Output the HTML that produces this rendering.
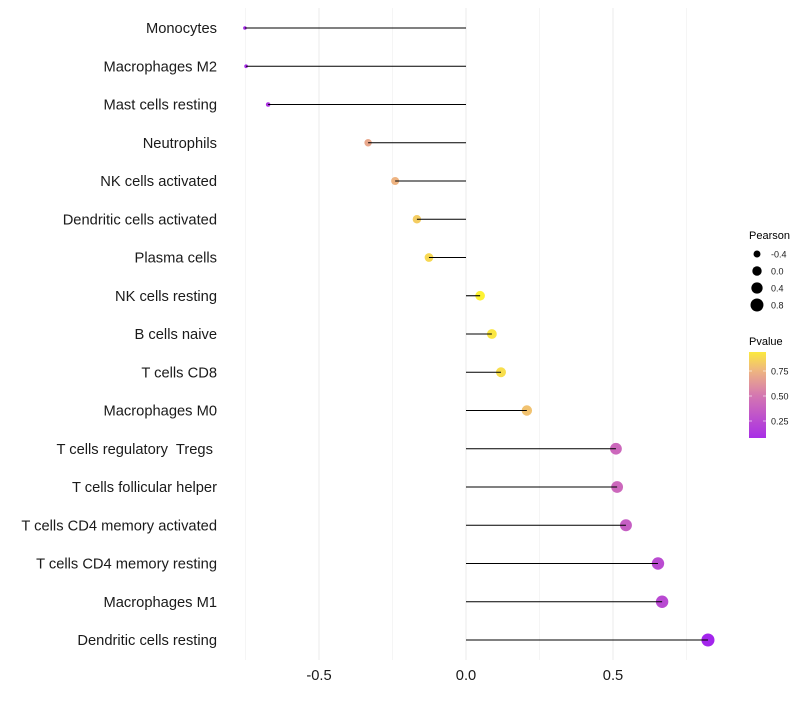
<!DOCTYPE html>
<html><head><meta charset="utf-8"><style>
body{margin:0;background:#fff;font-family:"Liberation Sans",sans-serif}
text{white-space:pre}
</style></head><body>
<svg id="c" width="800" height="700" xmlns="http://www.w3.org/2000/svg"></svg>
<script>
const categories=["Monocytes","Macrophages M2","Mast cells resting","Neutrophils","NK cells activated","Dendritic cells activated","Plasma cells","NK cells resting","B cells naive","T cells CD8","Macrophages M0","T cells regulatory  Tregs ","T cells follicular helper","T cells CD4 memory activated","T cells CD4 memory resting","Macrophages M1","Dendritic cells resting"];
const pearson=[-0.752,-0.748,-0.673,-0.333,-0.241,-0.167,-0.126,0.048,0.088,0.119,0.207,0.51,0.514,0.544,0.653,0.667,0.823];
const pvalue=[0.05,0.06,0.12,0.7,0.75,0.84,0.88,0.97,0.93,0.9,0.8,0.42,0.42,0.36,0.25,0.24,0.03];
const xTicks=[-0.5,0,0.5];
const xTickLabels=["-0.5","0.0","0.5"];
const sizeLegend=[-0.4,0,0.4,0.8];
const sizeLegendLabels=["-0.4","0.0","0.4","0.8"];
const colorTicks=[0.25,0.5,0.75];
const colorTickLabels=["0.25","0.50","0.75"];

const svg=document.getElementById('c');
const NS="http://www.w3.org/2000/svg";
const x=v=>466+v*294;
const y=i=>28+i*38.25;
const r=v=>Math.sqrt(Math.max(0.5,3+25*(v+0.76)));
function col(p){
  const stops=[[0,[160,32,240]],[0.5,[212,118,178]],[0.75,[238,180,130]],[1,[255,250,40]]];
  p=Math.max(0,Math.min(1,p));
  let k=0;while(k<stops.length-2&&p>stops[k+1][0])k++;
  const a=stops[k],b=stops[k+1];
  const t=(p-a[0])/(b[0]-a[0]);
  const c=a[1].map((v,j)=>Math.round(v+(b[1][j]-v)*t));
  return `rgb(${c[0]},${c[1]},${c[2]})`;
}
function mk(tag,attrs,parent){const e=document.createElementNS(NS,tag);for(const k in attrs)e.setAttribute(k,attrs[k]);(parent||svg).appendChild(e);return e;}

const gridVals=[-0.75,-0.5,-0.25,0,0.25,0.5,0.75];
gridVals.forEach(v=>{
  const major=Number.isInteger(v*2);
  const g=mk('line',{x1:x(v),x2:x(v),y1:8,y2:660,stroke:major?'#ebebeb':'#f3f3f3','stroke-width':major?1:0.8});
  
  
});
categories.forEach((c,i)=>{
  const t=mk('text',{x:217,y:y(i)+5,'text-anchor':'end','font-size':14.7,fill:'#1a1a1a'});
  t.textContent=c;
  
  
  const cc=mk('circle',{cx:x(pearson[i]),cy:y(i),r:r(pearson[i]),fill:col(pvalue[i])});
  
  
  const l=mk('line',{x1:x(0),x2:x(pearson[i]),y1:y(i),y2:y(i),stroke:'#000','stroke-width':1.1});
  
  
});
xTicks.forEach((v,i)=>{
  const t=mk('text',{x:x(v),y:680,'text-anchor':'middle','font-size':14.7,fill:'#1a1a1a'});
  t.textContent=xTickLabels[i];
  
  
});
const st=mk('text',{x:749,y:239,'font-size':11,fill:'#000'});st.textContent='Pearson';


sizeLegend.forEach((v,i)=>{
  const cy=254+i*17;
  const c=mk('circle',{cx:757,cy:cy,r:r(v),fill:'#000'});
  
  
  const t=mk('text',{x:771,y:cy+3.5,'font-size':9,fill:'#1a1a1a'});t.textContent=sizeLegendLabels[i];
  
  
});
const ct=mk('text',{x:749,y:345,'font-size':11,fill:'#000'});ct.textContent='Pvalue';


const defs=mk('defs',{});
const lg=mk('linearGradient',{id:'g',x1:0,y1:1,x2:0,y2:0},defs);
for(let k=0;k<=10;k++){const p=0.08+k/10*(0.94-0.08);mk('stop',{offset:k/10,'stop-color':col(p)},lg);}
const cb=mk('rect',{x:749,y:352,width:17,height:86,fill:'url(#g)'});


const cy=p=>446-p*100;
colorTicks.forEach((p,i)=>{
  mk('line',{x1:749,x2:752,y1:cy(p),y2:cy(p),stroke:'#fff','stroke-opacity':0.6});
  mk('line',{x1:763,x2:766,y1:cy(p),y2:cy(p),stroke:'#fff','stroke-opacity':0.6});
  const t=mk('text',{x:771,y:cy(p)+3.5,'font-size':9,fill:'#1a1a1a'});t.textContent=colorTickLabels[i];
  
  
});
</script>
</body></html>
